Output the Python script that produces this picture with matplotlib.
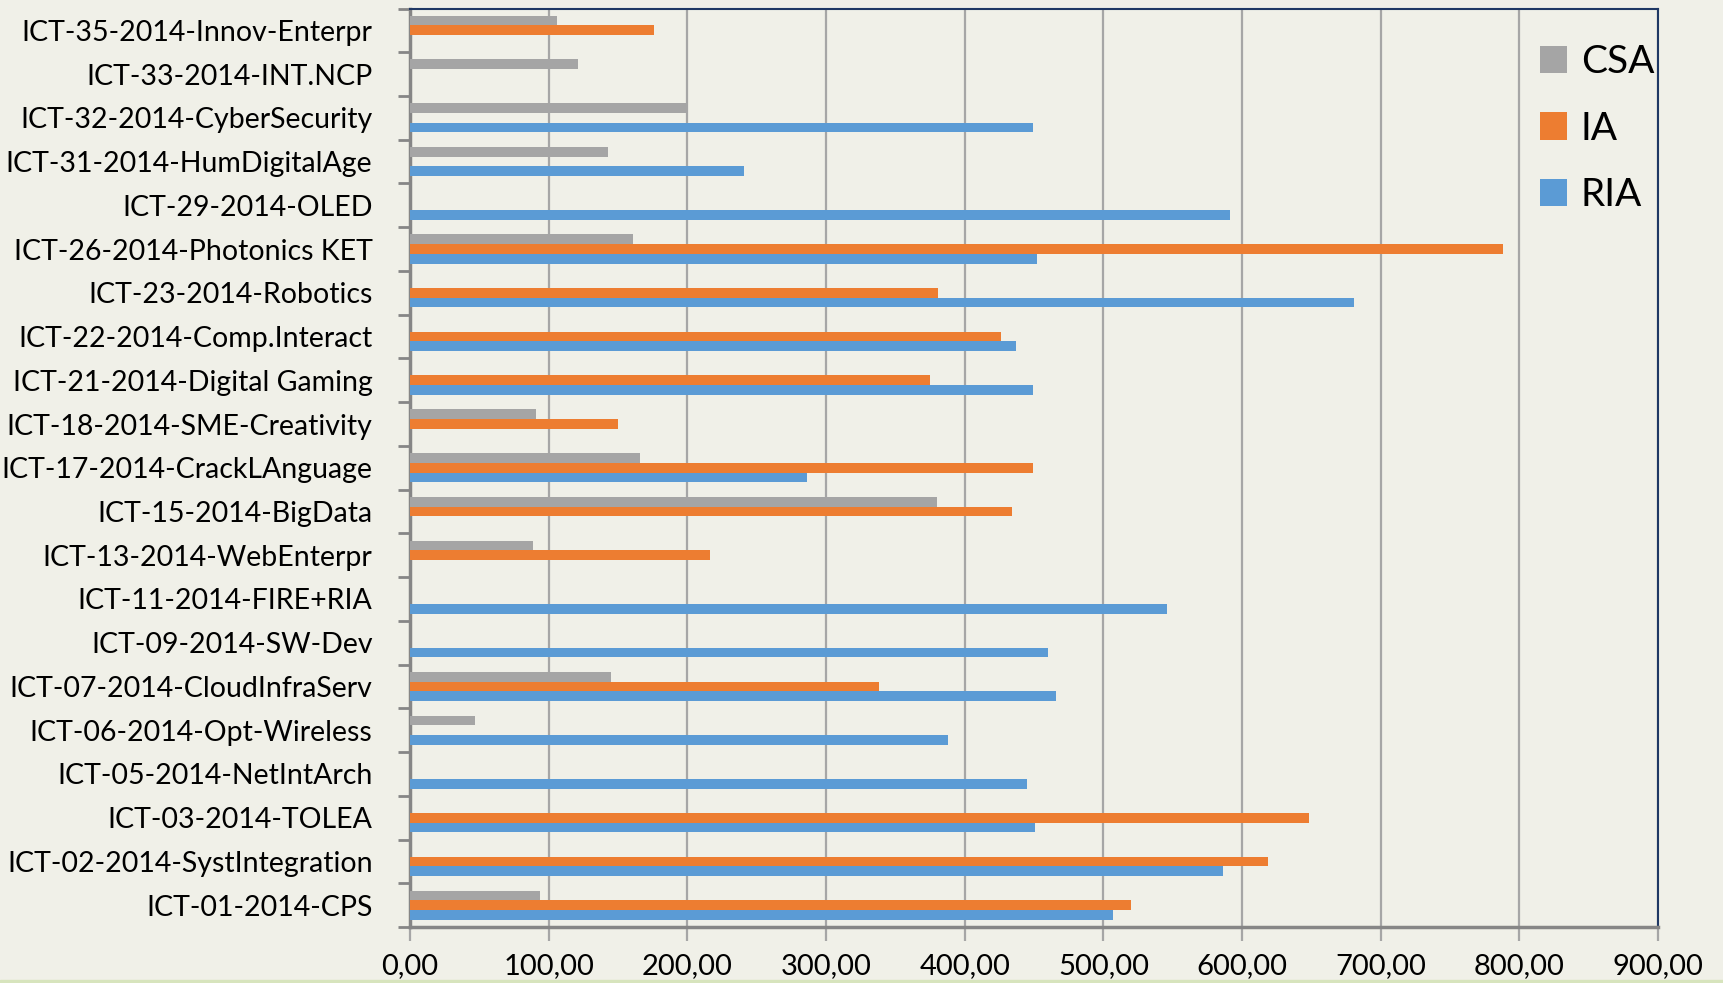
import numpy as np
import matplotlib
matplotlib.use('Agg')
import matplotlib.pyplot as plt
from matplotlib.patches import Rectangle

plt.rcParams['font.family'] = ['Lato', 'DejaVu Sans']

# bottom to top
categories = [
    'ICT-01-2014-CPS', 'ICT-02-2014-SystIntegration', 'ICT-03-2014-TOLEA',
    'ICT-05-2014-NetIntArch', 'ICT-06-2014-Opt-Wireless', 'ICT-07-2014-CloudInfraServ',
    'ICT-09-2014-SW-Dev', 'ICT-11-2014-FIRE+RIA', 'ICT-13-2014-WebEnterpr',
    'ICT-15-2014-BigData', 'ICT-17-2014-CrackLAnguage', 'ICT-18-2014-SME-Creativity',
    'ICT-21-2014-Digital Gaming', 'ICT-22-2014-Comp.Interact', 'ICT-23-2014-Robotics',
    'ICT-26-2014-Photonics KET', 'ICT-29-2014-OLED', 'ICT-31-2014-HumDigitalAge',
    'ICT-32-2014-CyberSecurity', 'ICT-33-2014-INT.NCP', 'ICT-35-2014-Innov-Enterpr',
]
csa = [94, 0, 0, 0, 47, 145, 0, 0, 89, 380, 166, 91, 0, 0, 0, 161, 0, 143, 200, 121, 106]
ia = [520, 619, 648, 0, 0, 338, 0, 0, 216, 434, 449, 150, 375, 426, 381, 788, 0, 0, 0, 0, 176]
ria = [507, 586, 451, 445, 388, 466, 460, 546, 0, 0, 286, 0, 449, 437, 681, 452, 591, 241, 449, 0, 0]
xticks = [0, 100, 200, 300, 400, 500, 600, 700, 800, 900]

bg = '#F0F0E8'
fig = plt.figure(figsize=(17.23, 9.83), dpi=100, facecolor=bg)
ax = fig.add_axes([410 / 1723, 1 - 927 / 983, (1658 - 410) / 1723, (927 - 8.5) / 983])
ax.set_facecolor(bg)

y = np.arange(len(categories))
h = 0.223
ax.barh(y + h, csa, height=h, color='#A5A5A5', label='CSA', zorder=3)
ax.barh(y, ia, height=h, color='#ED7D31', label='IA', zorder=3)
ax.barh(y - h, ria, height=h, color='#5B9BD5', label='RIA', zorder=3)

ax.set_xlim(0, 900)
ax.set_ylim(-0.5, len(categories) - 0.5)
ax.set_xticks(xticks)
ax.set_xticklabels(['%d,00' % v for v in xticks], fontsize=21)
ax.grid(axis='x', color='#A6A6A6', linewidth=1.6, zorder=0)
ax.set_axisbelow(True)

ax.set_yticks(np.arange(-0.5, len(categories), 1.0))
ax.set_yticklabels([])
ax.set_yticks(y, minor=True)
ax.set_yticklabels(categories, minor=True, fontsize=20.5)
ax.tick_params(axis='y', which='major', length=9, width=2, color='#868686', direction='out')
ax.tick_params(axis='y', which='minor', length=0, pad=27)
ax.tick_params(axis='x', length=10, width=1.6, color='#A6A6A6', direction='out', pad=9)

for side in ('left', 'bottom'):
    ax.spines[side].set_color('#868686')
    ax.spines[side].set_linewidth(2.5)
for side in ('top', 'right'):
    ax.spines[side].set_color('#1F3864')
    ax.spines[side].set_linewidth(1.5)

ax.legend(loc='upper left', bbox_to_anchor=(1540 / 1723, 1 - 44 / 983),
          bbox_transform=fig.transFigure, frameon=False, fontsize=28,
          handlelength=0.7, handleheight=0.7, handletextpad=0.35,
          labelspacing=0.79, borderpad=0, borderaxespad=0)

# thin green strip at the very bottom of the slide
fig.patches.append(Rectangle((0, 0), 1, 3 / 983, transform=fig.transFigure,
                             color='#D7E4BD', zorder=0))

fig.savefig('out.png', dpi=100, facecolor=bg)
